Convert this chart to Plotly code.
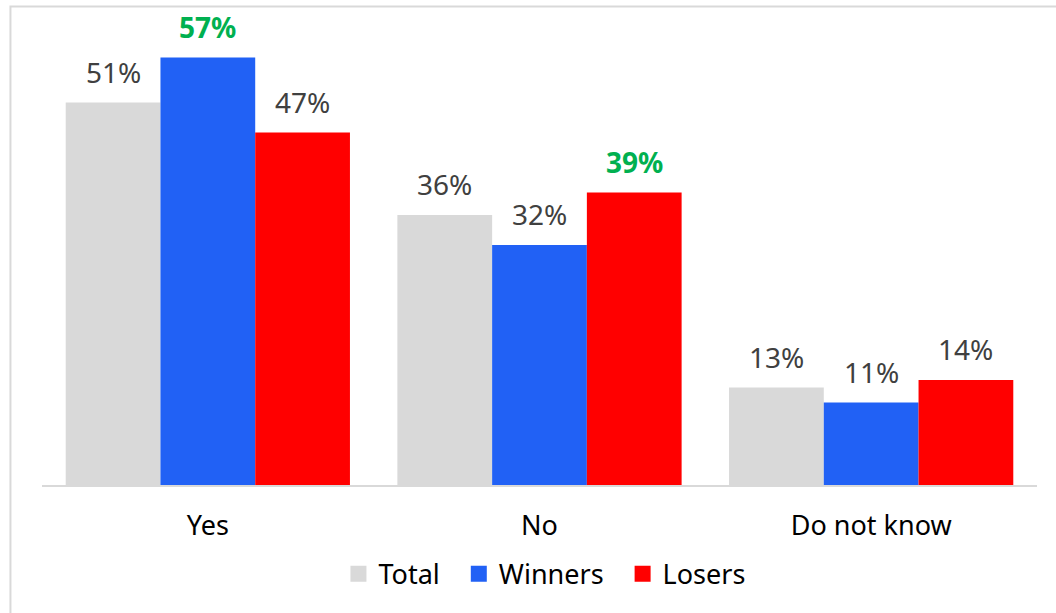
import plotly.graph_objects as go

categories = ["Yes", "No", "Do not know"]
series_names = ["Total", "Winners", "Losers"]
total = [51, 36, 13]
winners = [57, 32, 11]
losers = [47, 39, 14]
# labels drawn in bold green to flag the largest share in each answer
highlight = {("Winners", "Yes"), ("Losers", "No")}

colors = {"Total": "#d9d9d9", "Winners": "#2161f5", "Losers": "#ff0000"}
values = {"Total": total, "Winners": winners, "Losers": losers}

FONT = "Noto Sans"
PAD = "\u00a0\u00a0"  # extra room between legend entries

fig = go.Figure()
for name in series_names:
    fig.add_trace(go.Bar(
        name=name, x=categories, y=values[name],
        marker=dict(color=colors[name], line=dict(width=0)),
        showlegend=False,
    ))
    # legend entry with a larger square swatch
    fig.add_trace(go.Scatter(
        name=name + PAD, x=[None], y=[None], mode="markers",
        marker=dict(symbol="square", size=17, color=colors[name]),
    ))

# value labels above each bar
offsets = {"Total": -1, "Winners": 0, "Losers": 1}
for name in series_names:
    for cat, v in zip(categories, values[name]):
        hl = (name, cat) in highlight
        fig.add_annotation(
            x=cat, y=v, xref="x", yref="y",
            text=f"<b>{v}%</b>" if hl else f"{v}%",
            showarrow=False, yanchor="middle", yshift=31,
            xshift=offsets[name] * 94.7,
            font=dict(family=FONT, size=28, color="#00b050" if hl else "#404040"),
        )

# light outer frame of the chart area
fig.add_shape(type="rect", xref="paper", yref="paper",
              x0=-0.0317, x1=1.03, y0=-0.32, y1=1.0633,
              line=dict(color="#d9d9d9", width=2), fillcolor="rgba(0,0,0,0)")

fig.update_layout(
    width=1056, height=613,
    margin=dict(l=42, r=19, t=35, b=128),
    barmode="group", bargap=0.143, bargroupgap=0,
    plot_bgcolor="white", paper_bgcolor="white",
    font=dict(family=FONT, size=27, color="#000000"),
    legend=dict(orientation="h", x=0.512, xanchor="center", y=-0.198, yanchor="middle",
                font=dict(family=FONT, size=27, color="#000000"),
                itemwidth=30, traceorder="normal"),
    xaxis=dict(showline=True, linecolor="#d9d9d9", linewidth=1.5, ticks="",
               ticklabelstandoff=16,
               tickfont=dict(family=FONT, size=27, color="#000000"), showgrid=False),
    yaxis=dict(range=[0, 60], visible=False, showgrid=False),
)

fig.write_html("out.html")
